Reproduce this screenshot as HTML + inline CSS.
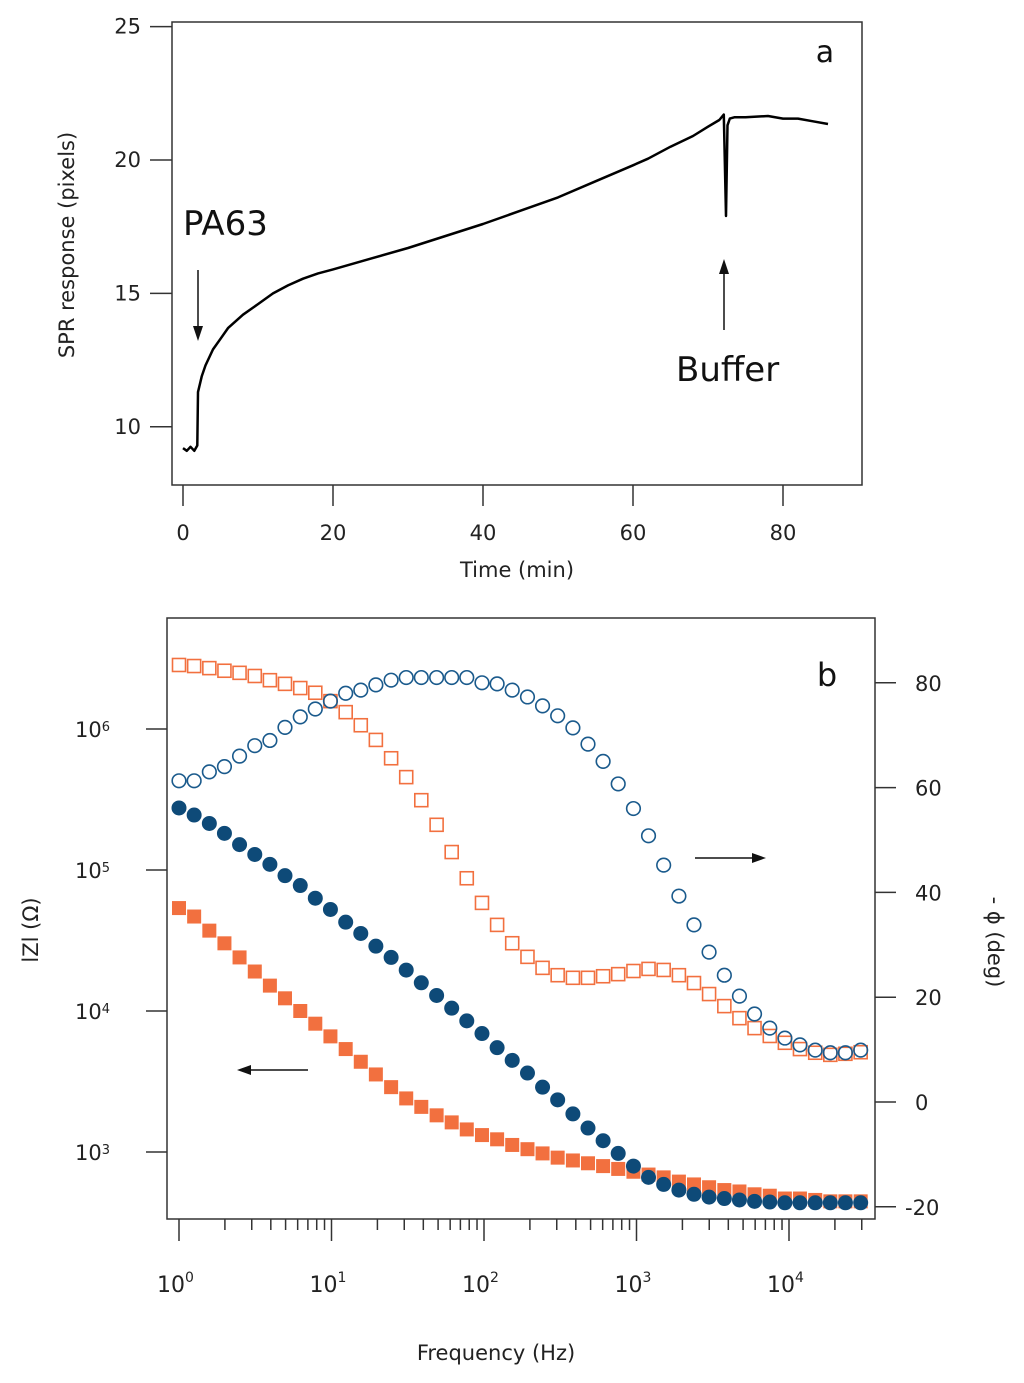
<!DOCTYPE html>
<html><head><meta charset="utf-8"><style>
html,body{margin:0;padding:0;background:#fff;}
svg{display:block;font-family:"DejaVu Sans","Liberation Sans",sans-serif;}
</style></head><body>
<svg id="fig" width="1024" height="1383" viewBox="0 0 1024 1383">
<g id="pa"></g>
<g id="pb"></g>
</svg>
<script>
// Panel a data
const timeMin = [0,0.5,1,1.5,1.9,2.0,2.5,3,4,5,6,8,10,12,14,16,18,20,25,30,35,40,45,50,55,60,62,65,68,70,71.5,72.1,72.4,72.6,72.9,73.5,75,78,80,82,84,86];
const sprVal  = [9.2,9.1,9.25,9.1,9.3,11.3,11.9,12.3,12.9,13.3,13.7,14.2,14.6,15.0,15.3,15.55,15.75,15.9,16.3,16.7,17.15,17.6,18.1,18.6,19.2,19.8,20.05,20.5,20.9,21.25,21.5,21.7,17.9,21.3,21.55,21.6,21.6,21.65,21.55,21.55,21.45,21.35];
const aXTicks = [0,20,40,60,80];
const aYTicks = [10,15,20,25];
// Panel b data
const freqHz = [1,1.257,1.581,1.986,2.495,3.14,3.945,4.955,6.24,7.83,9.84,12.39,15.56,19.54,24.6,30.9,38.8,48.9,61.4,77.1,97.0,121.9,153.1,192.8,242.1,304.1,382.8,480.8,604,758.6,955,1199,1507,1897,2382,2992,3767,4732,5943,7482,9397,11800,14860,18660,23440,29510];
const logZcirc = [5.44,5.39,5.33,5.26,5.18,5.11,5.04,4.96,4.89,4.80,4.72,4.63,4.55,4.46,4.38,4.29,4.20,4.11,4.02,3.93,3.84,3.74,3.65,3.56,3.46,3.37,3.27,3.17,3.08,2.99,2.90,2.82,2.77,2.73,2.70,2.68,2.67,2.66,2.65,2.645,2.64,2.64,2.64,2.64,2.64,2.64];
const logZsq = [4.73,4.67,4.57,4.48,4.38,4.28,4.18,4.09,4.00,3.91,3.82,3.73,3.64,3.55,3.46,3.38,3.32,3.26,3.21,3.16,3.12,3.09,3.05,3.02,2.99,2.96,2.94,2.92,2.90,2.88,2.86,2.84,2.82,2.79,2.77,2.75,2.73,2.72,2.70,2.69,2.67,2.67,2.66,2.65,2.65,2.65];
const phaseCirc = [61.3,61.3,63,64,66,68,69,71.5,73.5,75,76.5,78,78.6,79.6,80.5,81,81,81,81,81,80,79.8,78.6,77.3,75.6,73.7,71.4,68.3,65,60.7,56,50.8,45.2,39.3,33.8,28.6,24.2,20.2,16.8,14.1,12.2,10.9,9.9,9.4,9.4,9.9];
const phaseSq = [83.4,83.2,82.8,82.3,81.9,81.3,80.5,79.8,79.0,78.1,76.5,74.4,71.9,69.1,65.6,62.0,57.6,52.9,47.7,42.7,38.0,33.8,30.3,27.7,25.6,24.2,23.7,23.7,24.0,24.4,25.0,25.4,25.2,24.2,22.7,20.6,18.3,16.0,14.1,12.6,11.3,10.1,9.4,9.0,9.2,9.5];
const bLeftTicks = [6,5,4,3];
const bRightTicks = [80,60,40,20,0,-20];
const bXDecades = [0,1,2,3,4];

const NS='http://www.w3.org/2000/svg';
function mk(parent,tag,attrs,text){const e=document.createElementNS(NS,tag);for(const k in attrs)e.setAttribute(k,attrs[k]);if(text!==undefined)e.textContent=text;parent.appendChild(e);return e;}
const AX='#333';
// ---------- Panel a ----------
const pa=document.getElementById('pa');
const ax=t=>183+t*7.5, ay=v=>160-(v-20)*26.68;
let e=mk(pa,'rect',{x:172,y:22,width:690,height:463,fill:'none',stroke:AX,'stroke-width':1.5});

aXTicks.forEach(t=>{
  let l=mk(pa,'line',{x1:ax(t),x2:ax(t),y1:485,y2:506,stroke:AX,'stroke-width':1.5});
  
  let s=mk(pa,'text',{x:ax(t),y:540,'font-size':21,'text-anchor':'middle',fill:'#222'},String(t));
  
});
aYTicks.forEach(v=>{
  let l=mk(pa,'line',{x1:150,x2:172,y1:ay(v),y2:ay(v),stroke:AX,'stroke-width':1.5});
  
  let s=mk(pa,'text',{x:141,y:ay(v)+7,'font-size':21,'text-anchor':'end',fill:'#222'},String(v));
  
});
e=mk(pa,'text',{x:517,y:577,'font-size':21,'text-anchor':'middle',fill:'#222'},'Time (min)');

e=mk(pa,'text',{x:0,y:0,'font-size':21,'text-anchor':'middle',fill:'#222',transform:'translate(74,245) rotate(-90)'},'SPR response (pixels)');

let d=timeMin.map((t,i)=>(i?'L':'M')+ax(t).toFixed(1)+','+ay(sprVal[i]).toFixed(1)).join(' ');
e=mk(pa,'path',{d:d,fill:'none',stroke:'#000','stroke-width':2.5,'stroke-linejoin':'round'});

e=mk(pa,'text',{x:825,y:62,'font-size':30,'text-anchor':'middle',fill:'#111'},'a');

e=mk(pa,'text',{x:183,y:235,'font-size':34,fill:'#111'},'PA63');

e=mk(pa,'text',{x:676,y:381,'font-size':34,fill:'#111'},'Buffer');

e=mk(pa,'g',{});
mk(e,'line',{x1:198,x2:198,y1:270,y2:332,stroke:'#111','stroke-width':1.5});
mk(e,'path',{d:'M193,326 L198,341 L203,326 Z',fill:'#111'});
e=mk(pa,'g',{});
mk(e,'line',{x1:724,x2:724,y1:330,y2:268,stroke:'#111','stroke-width':1.5});
mk(e,'path',{d:'M719,274 L724,259 L729,274 Z',fill:'#111'});
// ---------- Panel b ----------
const pb=document.getElementById('pb');
const bx=f=>179+Math.log10(f)*152.5, bzy=lz=>729+(6-lz)*141, bpy=p=>1102-p*5.24;
const BLUE='#0e4a78', OR='#f2703f';
e=mk(pb,'rect',{x:167,y:618,width:708,height:601,fill:'none',stroke:AX,'stroke-width':1.5});

bXDecades.forEach(k=>{
  const x=bx(Math.pow(10,k));
  let l=mk(pb,'line',{x1:x,x2:x,y1:1219,y2:1241,stroke:AX,'stroke-width':1.5});
  
  let t=mk(pb,'text',{x:x-22,y:1292,'font-size':22,fill:'#222'},'10');
  
  mk(t,'tspan',{dy:-10,'font-size':14},String(k));
  for(let m=2;m<=9;m++){const f=m*Math.pow(10,k); if(bx(f)>872)break;
    let ml=mk(pb,'line',{x1:bx(f),x2:bx(f),y1:1219,y2:1230,stroke:AX,'stroke-width':1.5});
    }
});
bLeftTicks.forEach(k=>{
  const y=bzy(k);
  let l=mk(pb,'line',{x1:146,x2:167,y1:y,y2:y,stroke:AX,'stroke-width':1.5});
  
  let t=mk(pb,'text',{x:75,y:y+8,'font-size':21,fill:'#222'},'10');
  
  mk(t,'tspan',{dy:-6,'font-size':13},String(k));
});
bRightTicks.forEach(v=>{
  const y=bpy(v);
  let l=mk(pb,'line',{x1:875,x2:896,y1:y,y2:y,stroke:AX,'stroke-width':1.5});
  
  let t=mk(pb,'text',{x:v<0?905:915,y:y+8,'font-size':21,fill:'#222'},String(v));
  
});
e=mk(pb,'text',{x:496,y:1360,'font-size':21,'text-anchor':'middle',fill:'#222'},'Frequency (Hz)');

e=mk(pb,'text',{x:0,y:0,'font-size':21,'text-anchor':'middle',fill:'#222',transform:'translate(38,930) rotate(-90)'},'lZl (Ω)');

e=mk(pb,'text',{x:0,y:0,'font-size':21,'text-anchor':'middle',fill:'#222',transform:'translate(988,942) rotate(90)'},'- ϕ (deg)');

e=mk(pb,'text',{x:827,y:686,'font-size':32,'text-anchor':'middle',fill:'#111'},'b');

freqHz.forEach((f,i)=>{
  const x=bx(f);
  let s=mk(pb,'rect',{x:x-7,y:bzy(logZsq[i])-7,width:14,height:14,fill:OR});
  
  let c=mk(pb,'circle',{cx:x,cy:bzy(logZcirc[i]),r:7.5,fill:BLUE});
  
});
freqHz.forEach((f,i)=>{
  const x=bx(f);
  let s=mk(pb,'rect',{x:x-6.5,y:bpy(phaseSq[i])-6.5,width:13,height:13,fill:'#fff','fill-opacity':0,stroke:OR,'stroke-width':1.6});
  
  let c=mk(pb,'circle',{cx:x,cy:bpy(phaseCirc[i]),r:6.8,fill:'none',stroke:'#1a5a8c','stroke-width':1.6});
  
});
e=mk(pb,'g',{});
mk(e,'line',{x1:695,x2:757,y1:858,y2:858,stroke:'#111','stroke-width':1.5});
mk(e,'path',{d:'M752,853 L766,858 L752,863 Z',fill:'#111'});
e=mk(pb,'g',{});
mk(e,'line',{x1:308,x2:245,y1:1070,y2:1070,stroke:'#111','stroke-width':1.5});
mk(e,'path',{d:'M251,1065 L237,1070 L251,1075 Z',fill:'#111'});
</script>
</body></html>
